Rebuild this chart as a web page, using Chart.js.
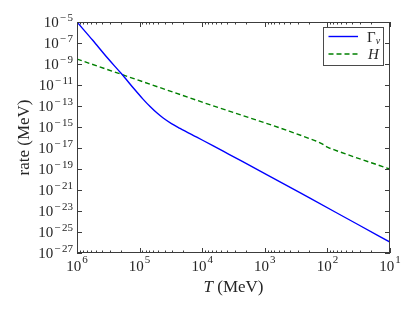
<!DOCTYPE html>
<html>
<head>
<meta charset="utf-8">
<script src="https://cdn.jsdelivr.net/npm/chart.js@4/dist/chart.umd.min.js"></script>
<style>
html,body{margin:0;padding:0;background:#fff;}
canvas{display:block;}
</style>
</head>
<body>
<canvas id="c" width="416" height="310"></canvas>
<script>
// Γ_ν : neutrino rate vs temperature (MeV)
const gammaT    = [1e6, 5.6e5, 3.2e5, 1.93e5, 1.18e5, 8.9e4, 6.8e4, 5.2e4, 4.2e4, 3.1e4, 2.26e4, 1.22e4, 6.65e3, 3.73e3, 1e3, 190, 32, 10];
const gammaRate = [1.0e-5, 1.8e-7, 3.3e-9, 1.1e-10, 3.3e-12, 4.8e-13, 8.9e-14, 2.0e-14, 7.1e-15, 2.1e-15, 7.4e-16, 1.07e-16, 1.6e-17, 2.5e-18, 3.7e-20, 1.66e-22, 4.9e-25, 1.1e-26];
// H : Hubble rate vs temperature (MeV)
const hubbleT    = [1e6, 1e4, 158, 126, 100, 79, 10];
const hubbleRate = [2.95e-9, 2.34e-13, 5.0e-17, 2.8e-17, 1.2e-17, 6.9e-18, 9.8e-20];
// tick labels (powers of ten)
const xTickExps = [6, 5, 4, 3, 2, 1];
const yTickExps = [-5, -7, -9, -11, -13, -15, -17, -19, -21, -23, -25, -27];
const seriesLabels = ['Γ', 'H'];

const SERIF = '"Liberation Serif", "DejaVu Serif", serif';
const AXIS_COLOR = '#3c3c3c';
const TEXT_COLOR = '#262626';

function supStr(e){ return (e < 0 ? '\u2212' : '') + Math.abs(e); }

function drawPow(ctx, e, x, baseY, align){
  ctx.save();
  ctx.fillStyle = TEXT_COLOR;
  ctx.textBaseline = 'alphabetic';
  ctx.textAlign = 'left';
  ctx.font = '15px ' + SERIF;
  const bw = ctx.measureText('10').width;
  ctx.font = '11px ' + SERIF;
  const es = supStr(e);
  const ew = ctx.measureText(es).width + (e < 0 ? 1.5 : 0);
  const total = bw + 1 + ew;
  let left = align === 'right' ? x - total : x - total / 2;
  ctx.font = '15px ' + SERIF;
  ctx.fillText('10', left, baseY);
  ctx.font = '11px ' + SERIF;
  if (e < 0) {
    ctx.fillText('\u2212', left + bw + 1, baseY - 6.5);
    const mw = ctx.measureText('\u2212').width;
    ctx.fillText(String(Math.abs(e)), left + bw + 1 + mw + 1.5, baseY - 6.5);
  } else {
    ctx.fillText(es, left + bw + 1, baseY - 8);
  }
  ctx.restore();
}

const decor = {
  id: 'decor',
  afterDraw(chart){
    const ctx = chart.ctx;
    const a = chart.chartArea;
    const xs = chart.scales.x, ys = chart.scales.y;
    ctx.save();
    ctx.strokeStyle = AXIS_COLOR;
    ctx.lineWidth = 1;
    // frame
    ctx.strokeRect(Math.round(a.left) + 0.5, Math.round(a.top) + 0.5, Math.round(a.right - a.left) - 1, Math.round(a.bottom - a.top) - 1);
    ctx.beginPath();
    // x ticks (major & minor), bottom and top, inward
    for (let d = 1; d <= 6; d++) {
      for (let m = 1; m <= 9; m++) {
        if (d === 6 && m > 1) break;
        const v = m * Math.pow(10, d);
        const px = Math.round(xs.getPixelForValue(v)) + 0.5;
        const len = m === 1 ? 5 : 2.5;
        ctx.moveTo(px, a.bottom); ctx.lineTo(px, a.bottom - len);
        ctx.moveTo(px, a.top); ctx.lineTo(px, a.top + len);
      }
    }
    // y ticks, left and right, inward
    yTickExps.forEach(e => {
      const py = Math.round(ys.getPixelForValue(Math.pow(10, e))) + 0.5;
      ctx.moveTo(a.left, py); ctx.lineTo(a.left + 5, py);
      ctx.moveTo(a.right, py); ctx.lineTo(a.right - 5, py);
    });
    ctx.stroke();
    ctx.restore();

    // tick labels
    yTickExps.forEach(e => {
      const py = ys.getPixelForValue(Math.pow(10, e));
      drawPow(ctx, e, a.left - 4, py + 5, 'right');
    });
    xTickExps.forEach(e => {
      const px = xs.getPixelForValue(Math.pow(10, e));
      drawPow(ctx, e, px, a.bottom + 18, 'center');
    });

    // axis titles
    ctx.save();
    ctx.fillStyle = TEXT_COLOR;
    ctx.font = '17px ' + SERIF;
    ctx.textBaseline = 'middle';
    ctx.textAlign = 'center';
    ctx.translate(25, (a.top + a.bottom) / 2);
    ctx.rotate(-Math.PI / 2);
    ctx.fillText('rate (MeV)', 0, 0);
    ctx.restore();

    ctx.save();
    ctx.fillStyle = TEXT_COLOR;
    ctx.textBaseline = 'alphabetic';
    ctx.textAlign = 'left';
    ctx.font = 'italic 17px ' + SERIF;
    const tw = ctx.measureText('T').width;
    ctx.font = '17px ' + SERIF;
    const rw = ctx.measureText(' (MeV)').width;
    const cx = (a.left + a.right) / 2;
    let lx = cx - (tw + rw) / 2;
    ctx.font = 'italic 17px ' + SERIF;
    ctx.fillText('T', lx, 292);
    ctx.font = '17px ' + SERIF;
    ctx.fillText(' (MeV)', lx + tw, 292);
    ctx.restore();

    // legend
    ctx.save();
    const bx = 323.5, by = 27.5, bw = 60, bh = 38;
    ctx.fillStyle = '#fff';
    ctx.fillRect(bx, by, bw, bh);
    ctx.strokeStyle = '#4a4a4a';
    ctx.lineWidth = 1;
    ctx.strokeRect(bx, by, bw, bh);
    const ds = chart.data.datasets;
    const rows = [36.5, 54];
    ds.forEach((d, i) => {
      ctx.beginPath();
      ctx.strokeStyle = d.borderColor;
      ctx.lineWidth = d.borderWidth;
      ctx.setLineDash(d.borderDash || []);
      ctx.moveTo(328.5, rows[i]); ctx.lineTo(358, rows[i]);
      ctx.stroke();
    });
    ctx.setLineDash([]);
    ctx.fillStyle = TEXT_COLOR;
    ctx.textBaseline = 'alphabetic';
    ctx.textAlign = 'left';
    ctx.font = '15px ' + SERIF;
    ctx.fillText(seriesLabels[0], 367, rows[0] + 5);
    const gw = ctx.measureText(seriesLabels[0]).width;
    ctx.font = 'italic 10px ' + SERIF;
    ctx.fillText('ν', 367 + gw, rows[0] + 7);
    ctx.font = 'italic 15px ' + SERIF;
    ctx.fillText(seriesLabels[1], 368, rows[1] + 5);
    ctx.restore();
  }
};

new Chart(document.getElementById('c'), {
  type: 'line',
  data: {
    datasets: [
      {
        label: 'Γν',
        data: gammaT.map((t, i) => ({x: t, y: gammaRate[i]})),
        borderColor: '#0000ff',
        borderWidth: 1.4,
        pointRadius: 0,
        cubicInterpolationMode: 'monotone',
        fill: false
      },
      {
        label: 'H',
        data: hubbleT.map((t, i) => ({x: t, y: hubbleRate[i]})),
        borderColor: '#008000',
        borderWidth: 1.4,
        borderDash: [5, 3],
        pointRadius: 0,
        cubicInterpolationMode: 'monotone',
        fill: false
      }
    ]
  },
  options: {
    responsive: false,
    animation: false,
    devicePixelRatio: 1,
    layout: {padding: {left: 0, top: 22, right: 26, bottom: 0}},
    plugins: {legend: {display: false}, tooltip: {enabled: false}},
    scales: {
      x: {
        type: 'logarithmic',
        reverse: true,
        min: 10, max: 1e6,
        grid: {display: false},
        border: {display: false},
        ticks: {display: false},
        afterFit(s){ s.height = 57; }
      },
      y: {
        type: 'logarithmic',
        min: 1e-27, max: 1e-5,
        grid: {display: false},
        border: {display: false},
        ticks: {display: false},
        afterFit(s){ s.width = 77; }
      }
    }
  },
  plugins: [decor]
});
</script>
</body>
</html>
